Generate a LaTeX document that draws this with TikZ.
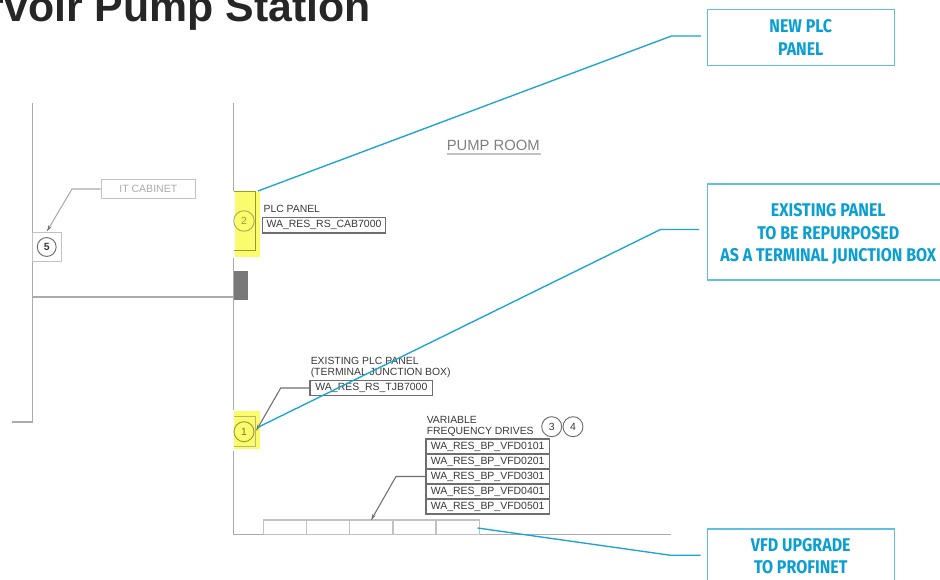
\documentclass[tikz,border=0pt]{standalone}
\usepackage{fontspec}
\setmainfont{Liberation Sans}
\newfontfamily\calloutfont[FakeStretch=0.87]{Fira Sans}
\definecolor{cyanline}{HTML}{1AA3D4}
\definecolor{boxline}{HTML}{5FC0E4}
\definecolor{cyantext}{HTML}{0A9FD3}
\definecolor{wallgray}{HTML}{ABABAB}
\definecolor{cabgray}{HTML}{C2C2C2}
\definecolor{darkline}{HTML}{6E6E6E}
\definecolor{inktext}{HTML}{3A3A3A}
\definecolor{hilite}{HTML}{FBFB6E}
\definecolor{olive}{HTML}{9A9A30}
\usetikzlibrary{arrows.meta}
\tikzset{
  x=0.75pt,y=-0.75pt,
  wall/.style={draw=wallgray,line width=1pt},
  lightbox/.style={draw=cabgray,line width=1pt,fill=white},
  tagbox/.style={draw=darkline,line width=0.95pt,fill=white,text=inktext,font=\fontsize{7.85}{9}\selectfont,inner sep=0pt},
  drawtext/.style={text=inktext,font=\fontsize{7.8}{8}\selectfont,align=left,inner sep=0pt},
  numcirc/.style={circle,draw=darkline,line width=0.7pt,minimum size=15pt,inner sep=0pt,text=inktext,font=\fontsize{7.8}{8}\selectfont},
  callout/.style={draw=boxline,line width=0.9pt,fill=white,text=cyantext,align=center,inner sep=0pt,font=\calloutfont\bfseries\fontsize{13.8}{16.9}\selectfont},
  lead/.style={draw=cyanline,line width=1pt},
  graylead/.style={draw=darkline,line width=0.8pt,-{Stealth[length=5pt,width=2.6pt]}},
}
\begin{document}
\begin{tikzpicture}
\useasboundingbox (0,0) rectangle (940,580);
\clip (0,0) rectangle (940,580);
\fill[white] (0,0) rectangle (940,580);
% title
\node[anchor=base east,inner sep=0pt,text=black!85] (title) at (371,22) {\bfseries\fontsize{32.1}{36}\selectfont rvoir Pump Station};
% walls
\draw[wall] (32.5,103) -- (32.5,422);
\draw[wall] (12,422) -- (32.5,422);
\draw[wall] (233.5,103) -- (233.5,191);
\draw[wall] (233.5,258) -- (233.5,410);
\draw[wall] (233.5,451) -- (233.5,534.5) -- (671,534.5);
\draw[wall] (32.5,297) -- (233.5,297);
\fill[gray!95!black] (234,271) rectangle (248,300);
% highlights
\fill[hilite] (235,192) rectangle (260,257);
\fill[hilite] (234.3,411) rectangle (260,449);
% PLC panel
\draw[draw=olive,line width=0.8pt] (233.5,191.7) -- (255.7,191.7) -- (255.7,250.3) -- (233.5,250.3);
\node[numcirc,draw=olive!80,text=olive,minimum size=15.4pt] (c2) at (244,221) {2};
% junction box
\draw[draw=olive!70,line width=0.7pt] (234,416) -- (255.7,416) -- (255.7,446.5) -- (234,446.5);
\node[numcirc,draw=olive,text=olive!80!black] (c1) at (244,431.7) {1};
% IT cabinet
\node[lightbox,minimum width=70.5pt,minimum height=14pt,inner sep=0pt,text=wallgray,font=\fontsize{7.9}{8}\selectfont] (itc) at (148.3,189) {IT CABINET};
\node[lightbox,minimum width=21.8pt,minimum height=21.8pt,inner sep=0pt] (cab5) at (46.8,246.8) {};
\node[numcirc,minimum size=14.2pt] (c5) at (46.7,247) {\textbf{5}};
\coordinate (itbend) at (72,189);
\draw[draw=wallgray,line width=0.8pt,-{Stealth[length=5pt,width=2.6pt,color=darkline]}] (itc.west) -- (itbend) -- (cab5.north);
% Labels
\node[drawtext,anchor=base west,text=gray] (pumproom) at (446.5,151) {\fontsize{11.1}{12}\selectfont PUMP ROOM};
\draw[draw=cabgray,line width=1.1pt] (pumproom.base west) ++(0,3.2) -- ++(94,0);
\node[drawtext,anchor=base west] (plclab) at (263.3,212.7) {PLC PANEL};
\node[tagbox,minimum width=92.5pt,minimum height=11.7pt] (plc) at (324,225.2) {WA\_RES\_RS\_CAB7000};
\node[drawtext,anchor=base west] (exlab) at (310.5,364.7) {EXISTING PLC PANEL};
\node[drawtext,anchor=base west] (exlab2) at (310.5,375.3) {(TERMINAL JUNCTION BOX)};
\node[tagbox,minimum width=92pt,minimum height=11pt] (tjb) at (371.4,388) {WA\_RES\_RS\_TJB7000};
\coordinate (tjbbend) at (280.7,388);
\draw[graylead] (tjb.west) -- (tjbbend) -- (256,431);
\node[drawtext,anchor=base west] (vfdlab) at (426.5,423.3) {VARIABLE};
\node[drawtext,anchor=base west] (vfdlab2) at (426.5,434.3) {FREQUENCY DRIVES};
\node[numcirc] (c3) at (551.7,426.7) {3};
\node[numcirc] (c4) at (573,426.7) {4};
\foreach \i/\y in {1/446.5,2/461.5,3/476.5,4/491.5,5/506.5}{
  \node[tagbox,minimum width=92.5pt,minimum height=11.25pt] (v\i) at (487.7,\y) {WA\_RES\_BP\_VFD0\i01};
}
% VFD cabinets
\foreach \i/\x in {1/263.3,2/306.5,3/349.7,4/392.8,5/436}{
  \node[anchor=north west,draw=cabgray,line width=1pt,minimum width=32.4pt,minimum height=10.7pt,inner sep=0pt,outer sep=0pt] (d\i) at (\x,520) {};
}
\coordinate (vfdbend) at (396,476.5);
\draw[graylead] (v3.west) -- (vfdbend) -- (371,520.3);
% callouts
\node[callout,minimum width=140.2pt,minimum height=42pt,anchor=north west] (new) at (706.7,9) {NEW PLC\\PANEL};
\node[callout,minimum width=181.5pt,minimum height=72pt,anchor=north west] (exist) at (706.7,183.5) {\rule{0pt}{13pt}EXISTING PANEL\\TO BE REPURPOSED\\AS A TERMINAL JUNCTION BOX};
\node[callout,minimum width=140.2pt,minimum height=40.5pt,anchor=north west] (vfd) at (706.7,528.5) {VFD UPGRADE\\TO PROFINET};
% leaders
\coordinate (l1a) at (701,36);
\coordinate (l1b) at (671.5,36);
\coordinate (l1c) at (258,191);
\draw[lead] (l1a) -- (l1b) -- (l1c);
\coordinate (l2a) at (699,229.5);
\coordinate (l2b) at (660.5,229.5);
\coordinate (l2c) at (258,427.3);
\draw[lead] (l2a) -- (l2b) -- (l2c);
\coordinate (l3a) at (700.7,555.3);
\coordinate (l3b) at (670.7,555.3);
\coordinate (l3c) at (477.5,528);
\draw[lead] (l3a) -- (l3b) -- (l3c);
\end{tikzpicture}
\end{document}
